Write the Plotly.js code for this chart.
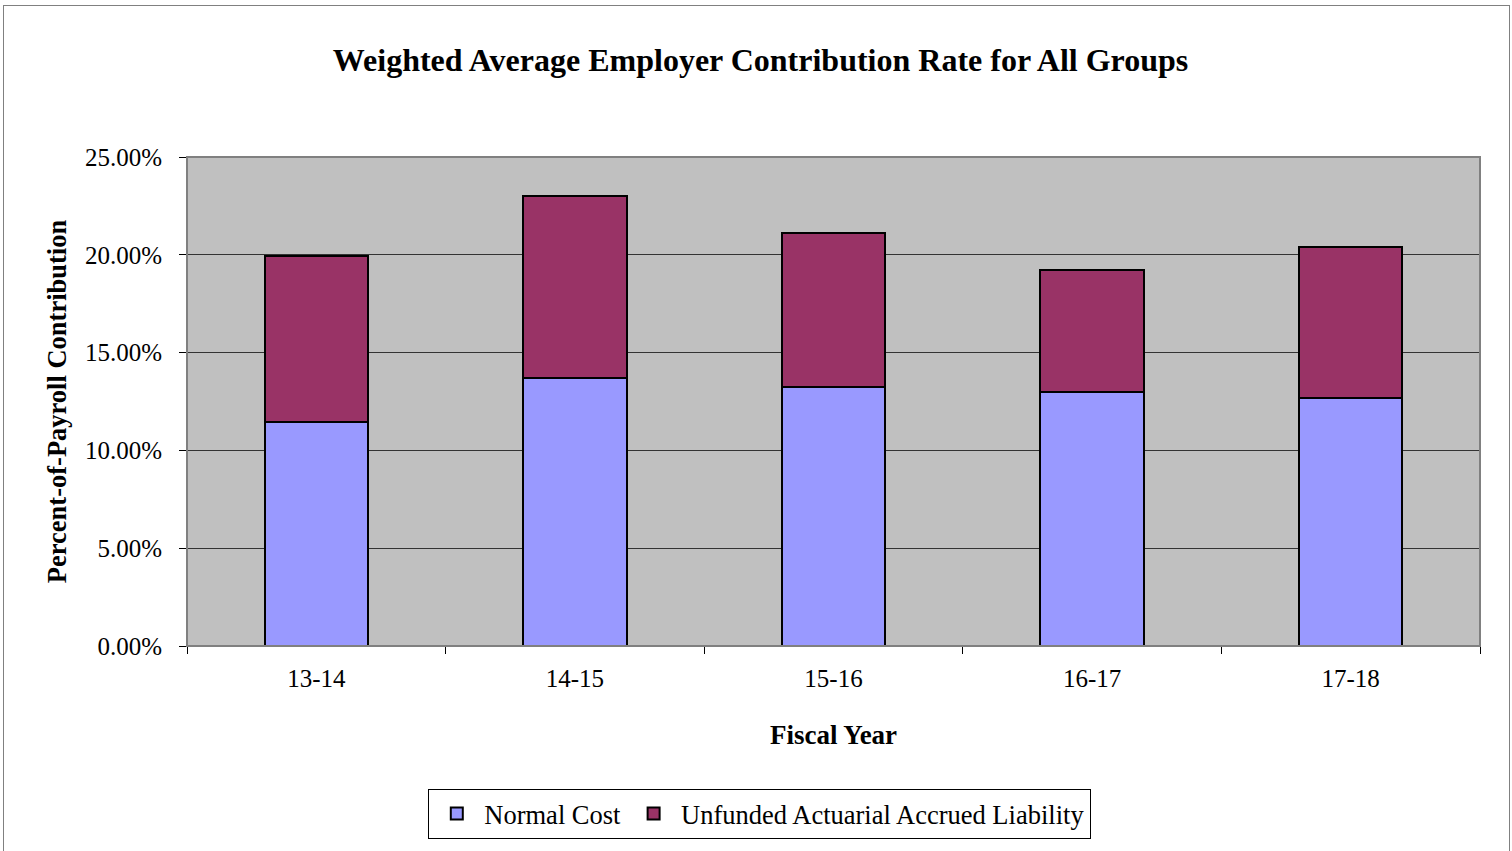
<!DOCTYPE html>
<html>
<head>
<meta charset="utf-8">
<script src="https://cdn.plot.ly/plotly-3.0.1.min.js"></script>
<style>
html,body{margin:0;padding:0;background:#fff;overflow:hidden;}
#chart{position:absolute;left:0;top:0;width:1512px;height:851px;}
#frame{position:absolute;left:3px;top:5px;width:1505px;height:900px;border:1px solid #808080;pointer-events:none;}
</style>
</head>
<body>
<div id="chart"></div>
<div id="frame"></div>
<script>
const fiscalYears = ["13-14", "14-15", "15-16", "16-17", "17-18"];
const normalCost = [11.47, 13.72, 13.25, 12.97, 12.70];
const uaal = [8.46, 9.28, 7.84, 6.23, 7.69];
const yTickVals = [0, 5, 10, 15, 20, 25];
const yTickText = ["0.00%", "5.00%", "10.00%", "15.00%", "20.00%", "25.00%"];

const serif = "'Liberation Serif', 'Times New Roman', serif";

const traces = [
  {
    type: "bar", name: "Normal Cost", x: fiscalYears, y: normalCost,
    marker: {color: "#9999FF", line: {color: "#000000", width: 2}},
    width: 0.4
  },
  {
    type: "bar", name: "Unfunded Actuarial Accrued Liability", x: fiscalYears, y: uaal,
    marker: {color: "#993366", line: {color: "#000000", width: 2}},
    width: 0.4
  }
];

const layout = {
  width: 1512, height: 851,
  margin: {l: 187, r: 32, t: 157, b: 203},
  paper_bgcolor: "#ffffff",
  plot_bgcolor: "#C0C0C0",
  barmode: "stack",
  font: {family: serif, color: "#000000", size: 25},
  title: {
    text: "<b>Weighted Average Employer Contribution Rate for All Groups</b>",
    font: {family: serif, size: 32, color: "#000"},
    x: 0.503, xref: "container", xanchor: "center",
    y: 0.9295, yref: "container", yanchor: "middle"
  },
  xaxis: {
    type: "category",
    tickson: "boundaries",
    ticks: "outside", ticklen: 7, tickcolor: "#000", tickwidth: 1,
    ticklabelstandoff: 10,
    showline: true, linecolor: "#000", linewidth: 1,
    mirror: false,
    showgrid: false,
    tickfont: {family: serif, size: 25},
    title: {text: "<b>Fiscal Year</b>", font: {family: serif, size: 27}, standoff: 34}
  },
  yaxis: {
    range: [0, 25],
    tickvals: yTickVals, ticktext: yTickText,
    ticks: "outside", ticklen: 7, tickcolor: "#000",
    ticklabelstandoff: 12,
    showline: true, linecolor: "#000", linewidth: 1,
    showgrid: true, gridcolor: "#333333", gridwidth: 1,
    zeroline: false,
    tickfont: {family: serif, size: 25},
    title: {text: "<b>Percent-of-Payroll Contribution</b>", font: {family: serif, size: 26.5}, standoff: 10}
  },
  shapes: [
    {type: "rect", xref: "paper", yref: "paper", x0: 0, x1: 1, y0: 0, y1: 1,
     line: {color: "#808080", width: 2}, fillcolor: "rgba(0,0,0,0)", layer: "above"}
  ],
  legend: {
    orientation: "h",
    x: 0.443, xanchor: "center",
    y: -0.292, yanchor: "top",
    bordercolor: "#000", borderwidth: 1,
    bgcolor: "#fff",
    font: {family: serif, size: 26.5},
    traceorder: "normal",
    itemwidth: 45
  },
  showlegend: true
};

Plotly.newPlot("chart", traces, layout, {displayModeBar: false, staticPlot: true});
</script>
</body>
</html>
